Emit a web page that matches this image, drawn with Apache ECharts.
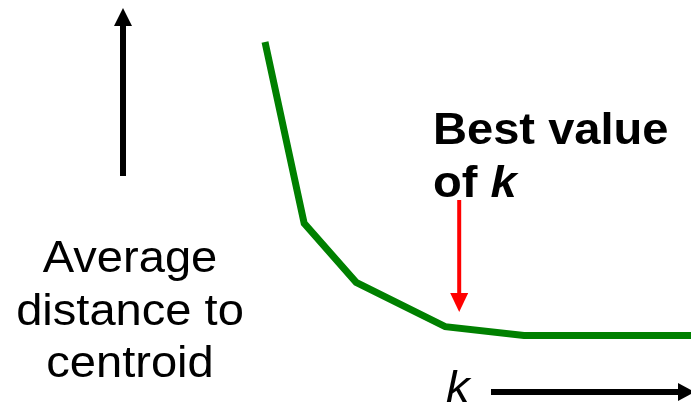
<!DOCTYPE html>
<html>
<head>
<meta charset="utf-8">
<title>Elbow method</title>
<script src="https://cdn.jsdelivr.net/npm/echarts@6/dist/echarts.min.js"></script>
<style>
  html, body { margin: 0; padding: 0; background: #fff; }
  #chart { width: 691px; height: 405px; }
</style>
</head>
<body>
<div id="chart"></div>
<script>
// Number of clusters k (relative position along the horizontal scale)
const kPositions = [0, 9.2, 21.4, 42.3, 60.8, 100];
// Average distance to centroid for each k (relative units)
const avgDistance = [100, 38.2, 18.1, 3.0, 0, 0];
// Index of the elbow point
const bestIndex = 3;

const yLabelLines = ['Average', 'distance to', 'centroid'];
const bestLabel = 'Best value\nof {i|k}';
const xLabel = 'k';

const FONT = 'Liberation Sans, Arial, sans-serif';
const SX = 1.07;

const chart = echarts.init(document.getElementById('chart'), null, { renderer: 'canvas' });

function arrowGraphics() {
  const g = [];
  // vertical axis arrow
  g.push({ type: 'rect', shape: { x: 120, y: 24, width: 6, height: 152 }, style: { fill: '#000' } });
  g.push({ type: 'polygon', shape: { points: [[114, 26], [132, 26], [123, 8]] }, style: { fill: '#000' } });
  // horizontal axis arrow
  g.push({ type: 'rect', shape: { x: 491, y: 389, width: 192, height: 6 }, style: { fill: '#000' } });
  g.push({ type: 'polygon', shape: { points: [[678, 383], [678, 401], [695, 392]] }, style: { fill: '#000' } });
  // red pointer to the elbow
  const p = chart.convertToPixel({ gridIndex: 0 }, [kPositions[bestIndex], avgDistance[bestIndex]]);
  const ax = p[0] + 14;
  g.push({ type: 'rect', shape: { x: ax - 2, y: 200, width: 4, height: 95 }, style: { fill: '#ff0000' } });
  g.push({ type: 'polygon', shape: { points: [[ax - 9, 293], [ax + 9, 293], [ax, 312]] }, style: { fill: '#ff0000' } });
  return g;
}

const textGraphics = [
  {
    type: 'text', x: 130, y: 234, scaleX: SX,
    style: {
      text: yLabelLines.join('\n'), fill: '#000',
      fontSize: 44, fontFamily: FONT, lineHeight: 52.5, align: 'center', verticalAlign: 'top'
    }
  },
  {
    type: 'text', x: 433, y: 105, scaleX: SX,
    style: {
      text: bestLabel, fill: '#000', fontSize: 44, fontWeight: 'bold', fontFamily: FONT,
      lineHeight: 53, align: 'left', verticalAlign: 'top',
      rich: { i: { fontSize: 44, fontWeight: 'bold', fontStyle: 'italic', fontFamily: FONT, lineHeight: 53 } }
    }
  },
  {
    type: 'text', x: 446, y: 368, scaleX: SX,
    style: {
      text: xLabel, fill: '#000', fontSize: 44, fontStyle: 'italic', fontFamily: FONT,
      align: 'left', verticalAlign: 'top'
    }
  }
];

chart.setOption({
  animation: false,
  backgroundColor: '#ffffff',
  grid: { left: 265, right: 0, top: 42, bottom: 69.5 },
  xAxis: { type: 'value', min: 0, max: 100, show: false },
  yAxis: { type: 'value', min: 0, max: 100, show: false },
  series: [{
    type: 'line',
    data: kPositions.map((k, i) => [k, avgDistance[i]]),
    showSymbol: false,
    clip: false,
    lineStyle: { color: '#008000', width: 7, cap: 'butt', join: 'miter' }
  }]
});

chart.setOption({ graphic: { elements: textGraphics.concat(arrowGraphics()) } });
</script>
</body>
</html>
